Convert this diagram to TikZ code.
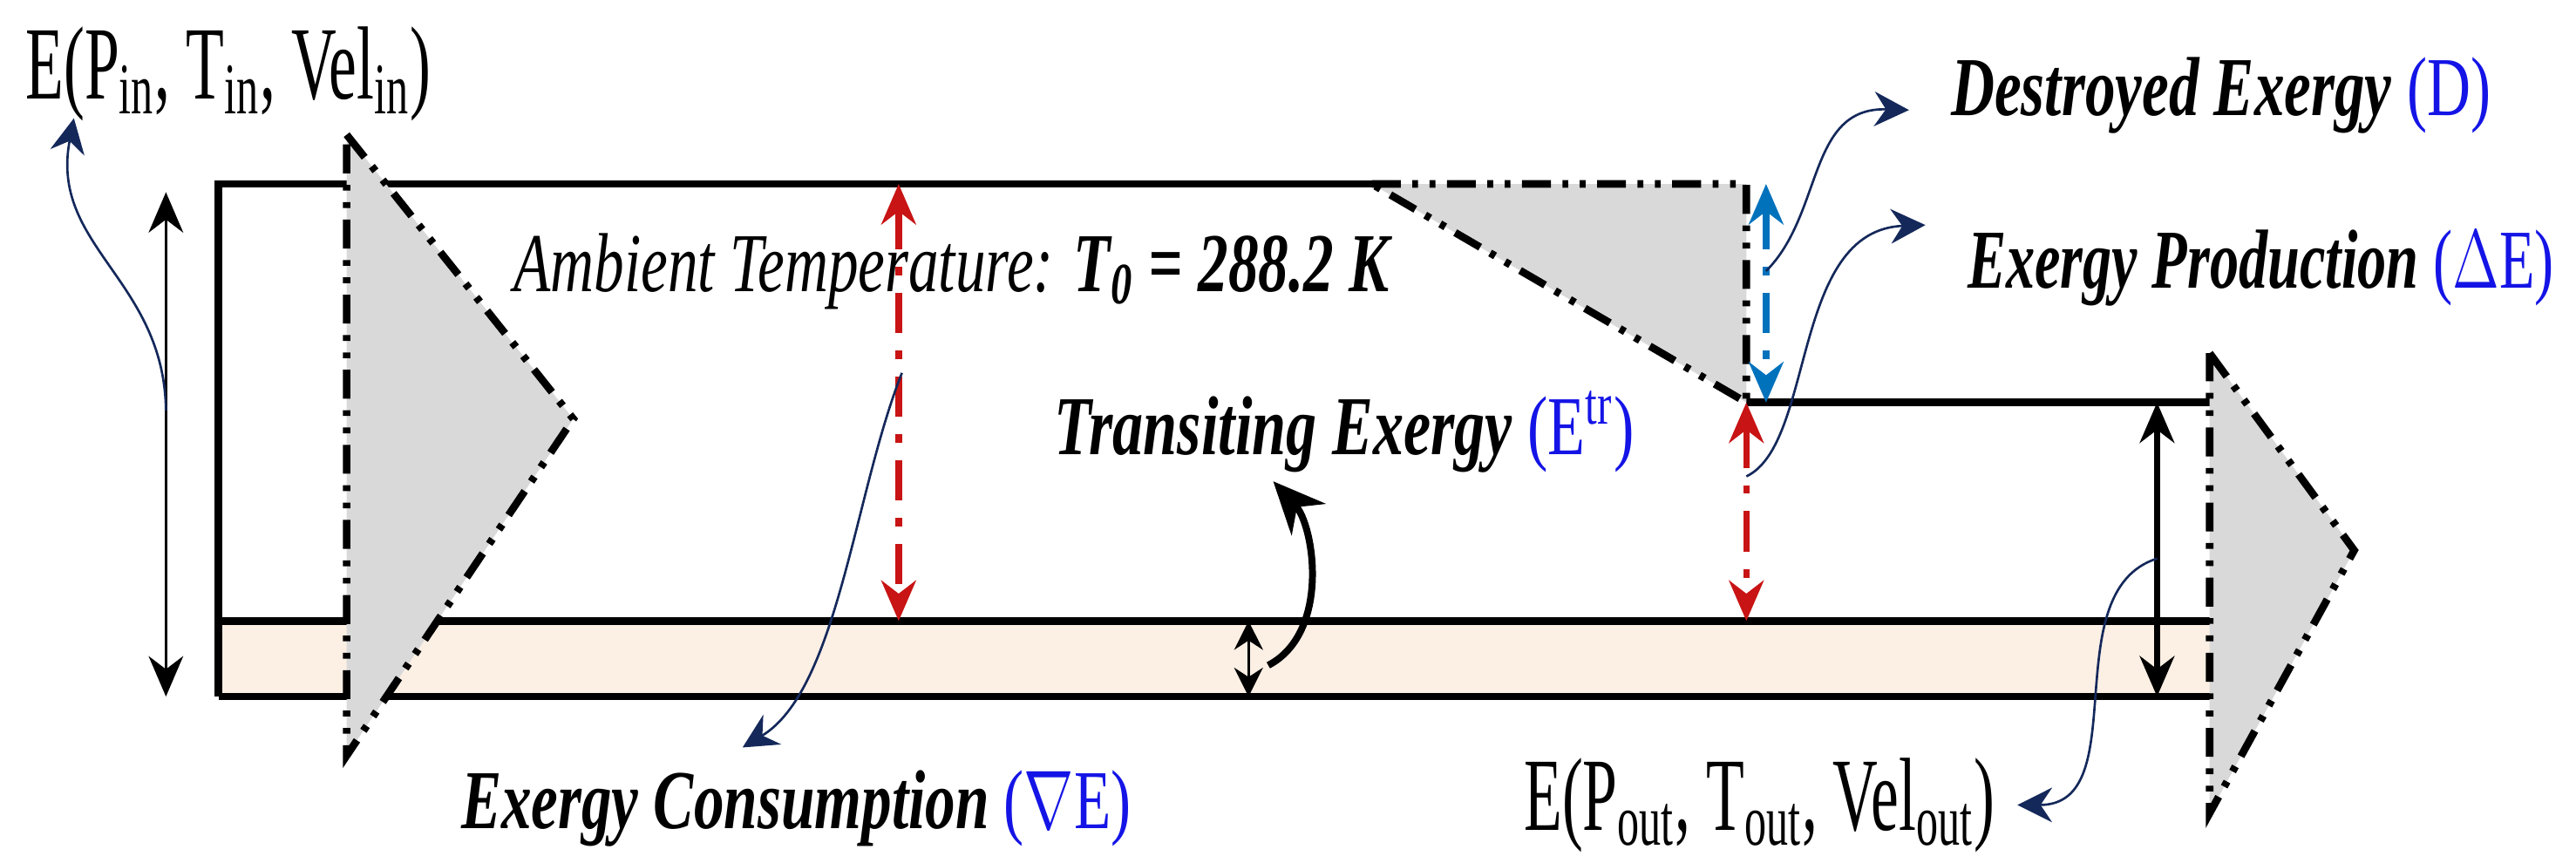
\documentclass[tikz,border=0pt]{standalone}
\usepackage{fontspec}
\setmainfont{Liberation Serif}
\usetikzlibrary{arrows.meta}
\definecolor{band}{RGB}{252,239,228}
\definecolor{shade}{RGB}{217,217,217}
\definecolor{navy}{RGB}{20,40,90}
\definecolor{dred}{RGB}{200,20,20}
\definecolor{lblue}{RGB}{0,114,188}
\definecolor{tblue}{RGB}{20,20,230}
\newcommand{\nar}[2]{\scalebox{#1}[1]{#2}}
\tikzset{
  outline/.style={line width=1.3pt},
  tri/.style={fill=shade,line width=1.3pt,dash pattern=on 5pt off 2pt on 1pt off 2pt on 1pt off 2pt},
  dd/.style={line width=1.1pt,dash pattern=on 7pt off 3pt on 1.5pt off 3pt},
  dbl/.style={{Stealth[length=7pt,width=6pt]}-{Stealth[length=7pt,width=6pt]}},
  lead/.style={navy,thin,-{Stealth[length=6pt,width=6pt,inset=2pt]}},
  lbl/.style={inner sep=0pt,anchor=west},
}
\begin{document}
\begin{tikzpicture}[x=0.01cm,y=-0.01cm]
\useasboundingbox (0,0) rectangle (1568,525);
% band
\fill[band] (133,378) rectangle (1345,424);
\draw[outline] (133,378) -- (1345,378);
\draw[outline] (133,424) -- (1345,424);
\draw[outline] (835,112) -- (133,112) -- (133,424);
\draw[outline] (1063,245) -- (1345,245);
% triangles
\draw[tri] (211,82) -- (349,255) -- (211,460) -- cycle;
\draw[tri] (835,112) -- (1063,112) -- (1063,245) -- cycle;
\draw[tri] (1345,215) -- (1433,335) -- (1345,495) -- cycle;
% coordinates
\coordinate (l1) at (101,117); \coordinate (l2) at (101,424);
\coordinate (r1) at (547,112); \coordinate (r2) at (547,378);
\coordinate (p1) at (1063,245); \coordinate (p2) at (1063,378);
\coordinate (b1) at (1075,112); \coordinate (b2) at (1075,245);
\coordinate (o1) at (1313,245); \coordinate (o2) at (1313,424);
\coordinate (s1) at (760,378); \coordinate (s2) at (760,424);
\draw[thin,dbl] (l1) -- (l2);
\draw[dd,dred,dbl] (r1) -- (r2);
\draw[dd,dred,dbl] (p1) -- (p2);
\draw[dd,lblue,dbl] (b1) -- (b2);
\draw[line width=1pt,dbl] (o1) -- (o2);
\draw[thin,{Stealth[length=5pt,width=5pt]}-{Stealth[length=5pt,width=5pt]}] (s1) -- (s2);
% labels
\node[lbl] (ein) at (15,45) {\fontsize{18}{18}\selectfont\nar{0.6}{E(P\textsubscript{in}, T\textsubscript{in}, Vel\textsubscript{in})}};
\node[lbl] (amb) at (312,165) {\fontsize{14.5}{14}\selectfont\nar{0.72}{\itshape Ambient Temperature: \textbf{\textit{T\textsubscript{0} = 288.2 K}}}};
\node[lbl] (tr) at (641,263) {\fontsize{14.5}{14}\selectfont\nar{0.73}{\textbf{\textit{Transiting Exergy}} \textcolor{tblue}{(E\textsuperscript{tr})}}};
\node[lbl] (de) at (1187,58) {\fontsize{14.5}{14}\selectfont\nar{0.72}{\textbf{\textit{Destroyed Exergy}} \textcolor{tblue}{(D)}}};
\node[lbl] (ep) at (1197,163) {\fontsize{14.5}{14}\selectfont\nar{0.69}{\textbf{\textit{Exergy Production}} \textcolor{tblue}{($\Delta$E)}}};
\node[lbl] (ec) at (280,492) {\fontsize{14.5}{14}\selectfont\nar{0.72}{\textbf{\textit{Exergy Consumption}} \textcolor{tblue}{($\nabla$E)}}};
\node[lbl] (eout) at (927,490) {\fontsize{18}{18}\selectfont\nar{0.6}{E(P\textsubscript{out}, T\textsubscript{out}, Vel\textsubscript{out})}};
% leaders
\draw[lead] (101,250) .. controls (100,170) and (30,150) .. (45,72);
\draw[lead] (549,227) .. controls (520,300) and (510,420) .. (452,455);
\draw[lead] (1075,165) .. controls (1110,130) and (1100,65) .. (1162,67);
\draw[lead] (1063,290) .. controls (1105,270) and (1090,140) .. (1172,137);
\draw[lead] (1313,340) .. controls (1250,360) and (1300,490) .. (1228,490);
\draw[line width=1.2pt,-{Stealth[length=9pt,width=8pt]}] (772,405) .. controls (810,385) and (800,320) .. (775,293);
\end{tikzpicture}
\end{document}
